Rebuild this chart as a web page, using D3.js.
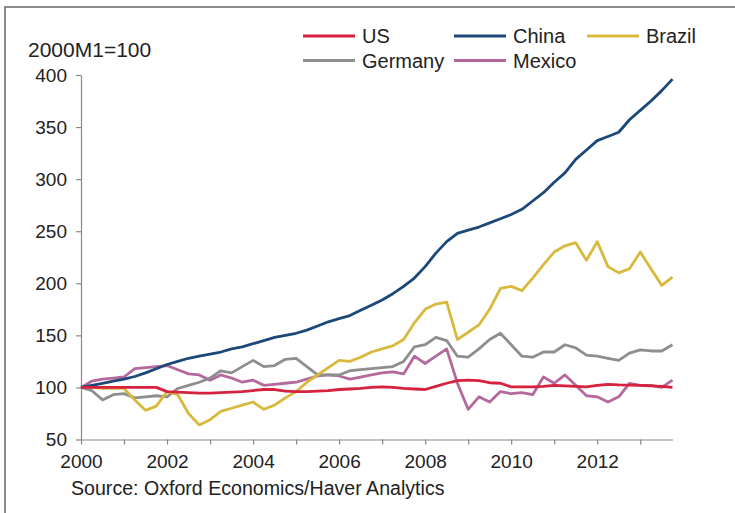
<!DOCTYPE html>
<html>
<head>
<meta charset="utf-8">
<script src="https://cdn.jsdelivr.net/npm/d3@7"></script>
<style>
  html, body { margin: 0; padding: 0; background: #fff; }
  svg { display: block; font-family: "Liberation Sans", Arial, sans-serif; }
</style>
</head>
<body>
<svg id="chart" width="735" height="513"></svg>
<script>
// Quarterly observations, 2000Q1 through 2013Q4 (index, 2000M1 = 100)
const startYear = 2000;
const quarters = d3.range(56).map(i => startYear + i / 4);

const seriesNames = ["US", "China", "Brazil", "Germany", "Mexico"];

const us = [
  100, 100, 100, 100,
  100, 100, 100, 100,
  96, 95.5, 95, 94.5,
  94.5, 95, 95.5, 96,
  97, 98, 98, 96.5,
  96, 96, 96.5, 97,
  98, 98.5, 99, 100,
  100.5, 100, 99, 98.5,
  98, 101, 104, 106.5,
  107, 106.5, 104.5, 104,
  100.5, 100.5, 100.5, 101,
  102, 101.5, 101, 100.5,
  102, 103, 102.5, 102.3,
  102, 101.5, 101, 100
];

const china = [
  100, 102, 104, 106,
  108, 110.5, 114, 118,
  122, 125, 128, 130,
  132, 134, 137, 139,
  142, 145, 148, 150,
  152, 155, 159, 163,
  166, 169, 174, 179,
  184, 190, 197, 205,
  216, 229, 240, 248,
  251, 254, 258, 262,
  266, 271, 279, 287,
  297, 306, 319, 328,
  337, 341, 345, 357,
  366, 375, 385, 396
];

const brazil = [
  100, 100, 99, 99,
  99, 88, 78, 82,
  96, 93, 75, 64,
  69, 77, 80, 83,
  86, 79, 83, 90,
  96, 105, 112, 119,
  126, 125, 129, 134,
  137, 140, 146, 162,
  175, 180, 182, 146,
  153, 160, 175, 195,
  197, 193, 205, 218,
  230, 236, 239, 222,
  240, 216, 210, 214,
  230, 214, 198, 206
];

const germany = [
  100, 97, 88, 93,
  94, 90, 91, 92,
  91, 99, 102, 105,
  109, 116, 114, 120,
  126, 120, 121, 127,
  128, 120, 112, 112,
  112, 116, 117, 118,
  119, 120, 125, 139,
  141, 148, 145, 130,
  129, 137, 146, 152,
  141, 130, 129, 134,
  134, 141, 138, 131,
  130, 128, 126, 133,
  136, 135, 135, 141
];

const mexico = [
  100, 106, 108, 109,
  110, 118, 119, 120,
  121, 117, 113, 112,
  107, 112, 109, 105,
  107, 102, 103, 104,
  105, 108, 111, 112,
  111, 108, 110, 112,
  114, 115, 113, 130,
  123, 130, 137, 104,
  79, 91, 86, 96,
  94, 95, 93, 110,
  104, 112, 102, 92,
  91, 86, 91, 104,
  102, 102, 100, 107
];

const yTicks = [50, 100, 150, 200, 250, 300, 350, 400];
const xTicks = d3.range(2000, 2014);
const xLabelYears = [2000, 2002, 2004, 2006, 2008, 2010, 2012];
const unitLabel = "2000M1=100";
const sourceText = "Source: Oxford Economics/Haver Analytics";

const colors = {
  US: "#d6213f",
  China: "#1b4878",
  Brazil: "#d8b93c",
  Germany: "#8e8e8e",
  Mexico: "#b4689c"
};

const values = { US: us, China: china, Brazil: brazil, Germany: germany, Mexico: mexico };

const svg = d3.select("#chart");
svg.append("rect").attr("width", 735).attr("height", 513).attr("fill", "#fff");

// outer frame (top and left edges)
svg.append("path")
  .attr("d", "M5,513 L5,7 L735,7")
  .attr("fill", "none")
  .attr("stroke", "#666")
  .attr("stroke-width", 1.5);

const x = d3.scaleLinear().domain([2000, 2013.75]).range([81, 672.5]);
const y = d3.scaleLinear().domain([50, 400]).range([439.5, 75]);

const axisColor = "#888";
const textColor = "#222";

// y axis
const yAxis = svg.append("g")
  .attr("transform", "translate(81,0)")
  .call(d3.axisLeft(y).tickValues(yTicks).tickSize(5).tickSizeOuter(0).tickPadding(9));
yAxis.selectAll("path, line").attr("stroke", axisColor).attr("stroke-width", 1.2);
yAxis.selectAll("text")
  .attr("fill", textColor)
  .style("font-size", "19px")
  .attr("dy", "0.33em");

// x axis
const xAxis = svg.append("g")
  .attr("transform", "translate(0,439.5)")
  .call(d3.axisBottom(x).tickValues(xTicks).tickSize(5).tickSizeOuter(0).tickPadding(10)
    .tickFormat(d => xLabelYears.includes(d) ? String(d) : ""));
xAxis.select("path.domain").attr("d", `M81,0.5H673`);
xAxis.selectAll("path, line").attr("stroke", axisColor).attr("stroke-width", 1.2);
xAxis.selectAll("text")
  .attr("fill", textColor)
  .style("font-size", "19px");

// unit label
svg.append("text")
  .attr("x", 28)
  .attr("y", 56.5)
  .attr("fill", textColor)
  .style("font-size", "21px")
  .text(unitLabel);

// source note
svg.append("text")
  .attr("x", 71)
  .attr("y", 495)
  .attr("fill", textColor)
  .style("font-size", "19.6px")
  .text(sourceText);

// series lines
const line = d3.line()
  .x((d, i) => x(quarters[i]))
  .y(d => y(d));

const drawOrder = ["Mexico", "Germany", "Brazil", "China", "US"];
svg.append("g")
  .selectAll("path")
  .data(drawOrder)
  .join("path")
  .attr("d", name => line(values[name]))
  .attr("fill", "none")
  .attr("stroke", name => colors[name])
  .attr("stroke-width", 2.8)
  .attr("stroke-linejoin", "round")
  .attr("stroke-linecap", "butt");

// legend
const legendItems = [
  { name: "US", col: 0, row: 0 },
  { name: "China", col: 1, row: 0 },
  { name: "Brazil", col: 2, row: 0 },
  { name: "Germany", col: 0, row: 1 },
  { name: "Mexico", col: 1, row: 1 }
];
const colX = [303, 454, 587];
const rowY = [36, 60.5];

const legend = svg.append("g");
const items = legend.selectAll("g")
  .data(legendItems)
  .join("g")
  .attr("transform", d => `translate(${colX[d.col]},${rowY[d.row]})`);
items.append("line")
  .attr("x1", 0).attr("x2", 52)
  .attr("y1", 0).attr("y2", 0)
  .attr("stroke", d => colors[d.name])
  .attr("stroke-width", 3);
items.append("text")
  .attr("x", 59)
  .attr("y", 7.2)
  .attr("fill", textColor)
  .style("font-size", "20px")
  .text(d => d.name);
</script>
</body>
</html>
